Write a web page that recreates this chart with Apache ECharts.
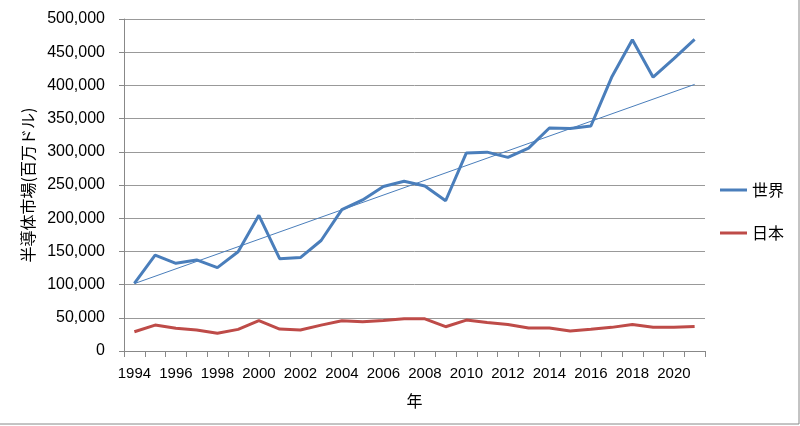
<!DOCTYPE html>
<html>
<head>
<meta charset="utf-8">
<script src="https://cdn.jsdelivr.net/npm/echarts@6/dist/echarts.min.js"></script>
<style>html,body{margin:0;padding:0;background:#fff;}#c{width:800px;height:426px;}</style>
</head>
<body>
<div id="c"></div>
<script>
var years = ['1994','1995','1996','1997','1998','1999','2000','2001','2002','2003','2004','2005','2006','2007','2008','2009','2010','2011','2012','2013','2014','2015','2016','2017','2018','2019','2020','2021'];
var world = [101900,144400,132000,137200,125600,149400,204400,139000,140700,166400,213000,227500,247700,255600,248600,226300,298300,299500,291600,305600,335800,335200,338900,412200,468800,412300,440400,469400];
var japan = [29000,39000,34200,31600,26600,32600,45600,33100,31600,39000,45600,44100,46000,48600,48500,36600,46600,43000,40000,34500,34500,30000,32600,35600,40000,35800,35800,37000];
// trendline of 世界: value at first and last year
var trendYears = ['1994','2021'];
var trendValues = [101500, 401500];

var chart = echarts.init(document.getElementById('c'));
var font = 'Liberation Sans, Arial, sans-serif';
var cjk = 'Noto Sans CJK JP, sans-serif';
chart.setOption({
  animation: false,
  backgroundColor: '#fff',
  textStyle: { fontFamily: font },
  grid: { left: 124, right: 95, top: 19, bottom: 75 },
  legend: {
    orient: 'vertical',
    left: 715, top: 177,
    itemWidth: 27, itemHeight: 3, itemGap: 27,
    icon: 'rect',
    textStyle: { fontSize: 16, color: '#000', fontFamily: cjk },
    data: ['世界','日本']
  },
  xAxis: {
    type: 'category',
    data: years,
    boundaryGap: true,
    name: '年',
    nameLocation: 'middle',
    nameGap: 42,
    nameTextStyle: { fontSize: 16, color: '#000', fontFamily: cjk },
    axisLine: { lineStyle: { color: '#888', width: 1 } },
    axisTick: { show: true, interval: 0, length: 6, lineStyle: { color: '#888' } },
    axisLabel: { interval: 1, fontSize: 15, color: '#000', margin: 15 },
    splitLine: { show: false }
  },
  yAxis: {
    type: 'value',
    min: 0, max: 500000, interval: 50000,
    name: '半導体市場(百万ドル)',
    nameLocation: 'middle',
    nameGap: 82,
    nameTextStyle: { fontSize: 16, color: '#000', fontFamily: cjk },
    axisLine: { show: true, lineStyle: { color: '#888', width: 1 } },
    axisTick: { show: true, length: 5, lineStyle: { color: '#888' } },
    axisLabel: { fontSize: 16, color: '#000', margin: 19,
      formatter: function(v){ return v.toLocaleString('en-US'); } },
    splitLine: { show: true, lineStyle: { color: '#999', width: 1 } }
  },
  series: [
    { name: '世界', type: 'line', data: world, symbol: 'none', z: 3,
      lineStyle: { color: '#4a7ebb', width: 3 }, itemStyle: { color: '#4a7ebb' } },
    { name: '日本', type: 'line', data: japan, symbol: 'none', z: 3,
      lineStyle: { color: '#be4b48', width: 3 }, itemStyle: { color: '#be4b48' } },
    { name: 'trend', type: 'line', symbol: 'none', z: 4, silent: true,
      data: trendYears.map(function(y, i){ return [y, trendValues[i]]; }),
      lineStyle: { color: '#4a7ebb', width: 1 }, itemStyle: { color: '#4a7ebb' } }
  ],
  graphic: [
    { type: 'rect', shape: { x: -1, y: -1, width: 800, height: 425 }, silent: true,
      style: { fill: 'none', stroke: '#888', lineWidth: 1 } }
  ]
});
</script>
</body>
</html>
